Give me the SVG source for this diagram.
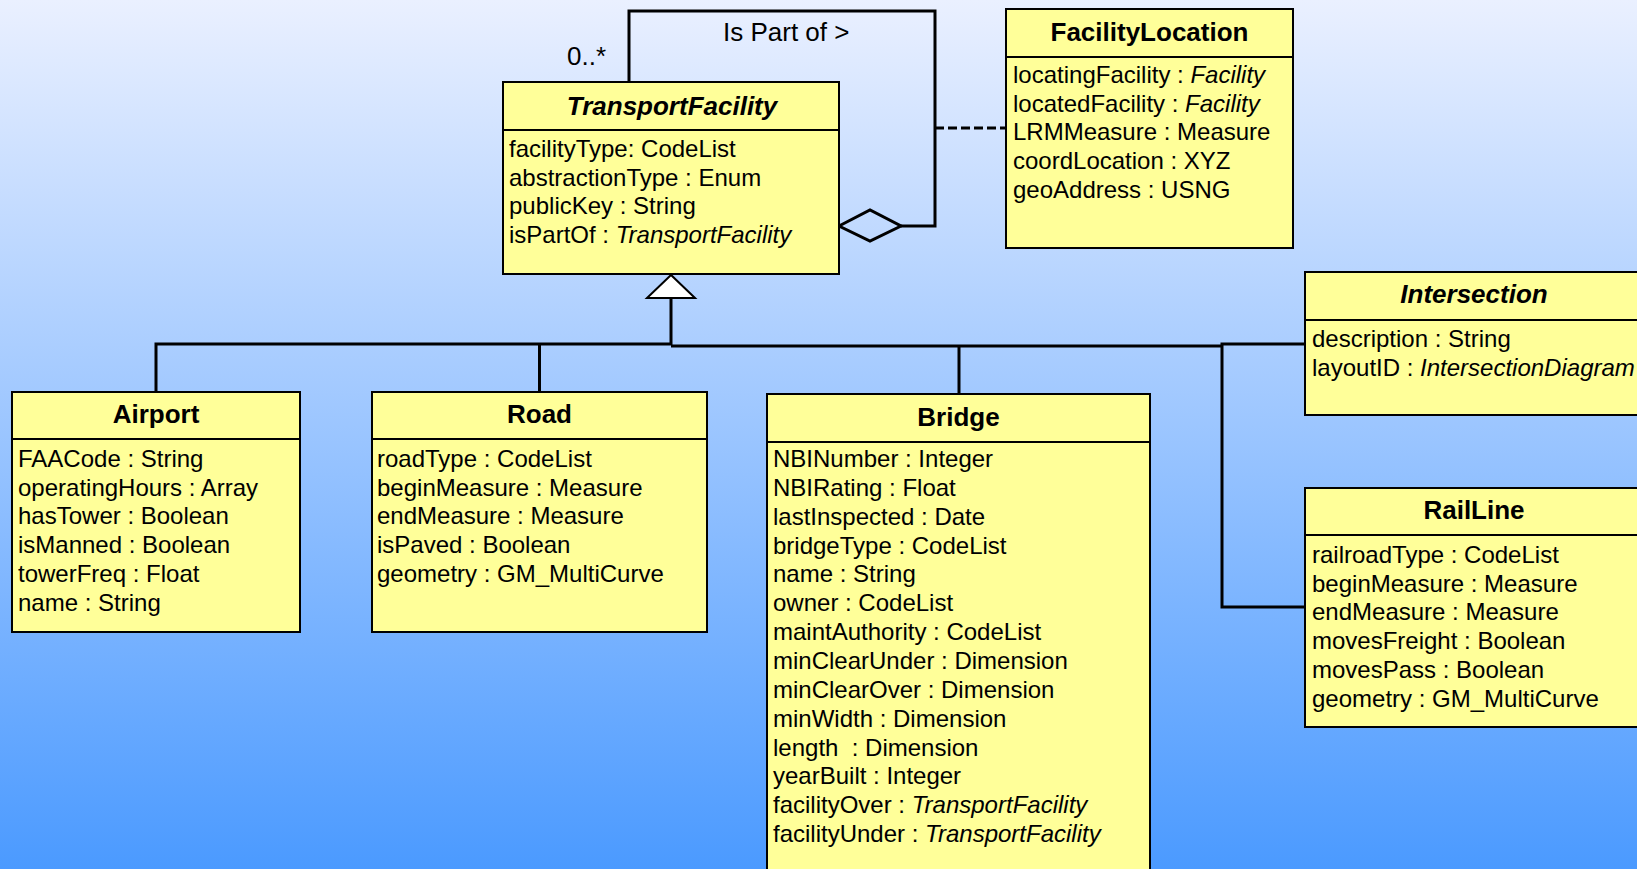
<svg xmlns="http://www.w3.org/2000/svg" width="1637" height="869" viewBox="0 0 1637 869">
<defs>
<linearGradient id="bg" x1="0" y1="0" x2="0" y2="1">
<stop offset="0" stop-color="#eaf0ff"/>
<stop offset="1" stop-color="#4b9aff"/>
</linearGradient>
<style>
.box{fill:#ffff99;stroke:#000;stroke-width:2}
.div{stroke:#000;stroke-width:2}
.t{font-family:"Liberation Sans",Arial,sans-serif;font-size:26px;font-weight:bold;text-anchor:middle;fill:#000}
.ti{font-style:italic}
.a{font-family:"Liberation Sans",Arial,sans-serif;font-size:24px;fill:#000}
.it{font-style:italic}
.c{fill:none;stroke:#000;stroke-width:3}
.lbl{font-family:"Liberation Sans",Arial,sans-serif;font-size:26px;fill:#000}
</style>
</defs>
<rect x="0" y="0" width="1637" height="869" fill="url(#bg)"/>

<g id="connectors">
<polyline class="c" points="629,82 629,11 935,11 935,226 901,226"/>
<polygon points="839,226 870,210 901,226 870,241" fill="none" stroke="#000" stroke-width="3"/>
<line x1="935" y1="128" x2="1006" y2="128" stroke="#000" stroke-width="3" stroke-dasharray="9,4"/>
<line class="c" x1="671" y1="298" x2="671" y2="345"/>
<polyline class="c" points="156,392 156,344 671,344"/>
<line class="c" x1="671" y1="346" x2="1222" y2="346"/>
<line class="c" x1="539.5" y1="344" x2="539.5" y2="392"/>
<line class="c" x1="959" y1="346" x2="959" y2="394"/>
<polyline class="c" points="1305,344 1222,344 1222,607 1305,607"/>
<polygon points="671,275 647,298 695,298" fill="#fff" stroke="#000" stroke-width="2"/>
<text class="lbl" x="567" y="65">0..*</text>
<text class="lbl" x="723" y="41">Is Part of &gt;</text>
</g>

<g id="TransportFacility">
<rect class="box" x="503" y="82" width="336" height="192"/>
<line class="div" x1="503" y1="130" x2="839" y2="130"/>
<text class="t ti" x="672" y="115">TransportFacility</text>
<text class="a" x="509" y="157">facilityType: CodeList</text>
<text class="a" x="509" y="185.7">abstractionType : Enum</text>
<text class="a" x="509" y="214.4">publicKey : String</text>
<text class="a" x="509" y="243">isPartOf : <tspan class="it">TransportFacility</tspan></text>
</g>

<g id="FacilityLocation">
<rect class="box" x="1006" y="9" width="287" height="239"/>
<line class="div" x1="1006" y1="57" x2="1293" y2="57"/>
<text class="t" x="1149.5" y="41">FacilityLocation</text>
<text class="a" x="1013" y="83">locatingFacility : <tspan class="it">Facility</tspan></text>
<text class="a" x="1013" y="111.7">locatedFacility : <tspan class="it">Facility</tspan></text>
<text class="a" x="1013" y="140.4">LRMMeasure : Measure</text>
<text class="a" x="1013" y="169.1">coordLocation : XYZ</text>
<text class="a" x="1013" y="197.8">geoAddress : USNG</text>
</g>

<g id="Intersection">
<rect class="box" x="1305" y="272" width="340" height="143"/>
<line class="div" x1="1305" y1="320" x2="1645" y2="320"/>
<text class="t ti" x="1474" y="303">Intersection</text>
<text class="a" x="1312" y="347">description : String</text>
<text class="a" x="1312" y="376">layoutID : <tspan class="it">IntersectionDiagram</tspan></text>
</g>

<g id="RailLine">
<rect class="box" x="1305" y="488" width="340" height="239"/>
<line class="div" x1="1305" y1="535" x2="1645" y2="535"/>
<text class="t" x="1474" y="519">RailLine</text>
<text class="a" x="1312" y="563">railroadType : CodeList</text>
<text class="a" x="1312" y="591.7">beginMeasure : Measure</text>
<text class="a" x="1312" y="620.4">endMeasure : Measure</text>
<text class="a" x="1312" y="649.1">movesFreight : Boolean</text>
<text class="a" x="1312" y="677.8">movesPass : Boolean</text>
<text class="a" x="1312" y="706.5">geometry : GM_MultiCurve</text>
</g>

<g id="Airport">
<rect class="box" x="12" y="392" width="288" height="240"/>
<line class="div" x1="12" y1="439" x2="300" y2="439"/>
<text class="t" x="156" y="423">Airport</text>
<text class="a" x="18" y="467">FAACode : String</text>
<text class="a" x="18" y="495.7">operatingHours : Array</text>
<text class="a" x="18" y="524.4">hasTower : Boolean</text>
<text class="a" x="18" y="553.1">isManned : Boolean</text>
<text class="a" x="18" y="581.8">towerFreq : Float</text>
<text class="a" x="18" y="610.5">name : String</text>
</g>

<g id="Road">
<rect class="box" x="372" y="392" width="335" height="240"/>
<line class="div" x1="372" y1="439" x2="707" y2="439"/>
<text class="t" x="539.5" y="423">Road</text>
<text class="a" x="377" y="467">roadType : CodeList</text>
<text class="a" x="377" y="495.7">beginMeasure : Measure</text>
<text class="a" x="377" y="524.4">endMeasure : Measure</text>
<text class="a" x="377" y="553.1">isPaved : Boolean</text>
<text class="a" x="377" y="581.8">geometry : GM_MultiCurve</text>
</g>

<g id="Bridge">
<rect class="box" x="767" y="394" width="383" height="500"/>
<line class="div" x1="767" y1="442" x2="1150" y2="442"/>
<text class="t" x="958.5" y="426">Bridge</text>
<text class="a" x="773" y="467">NBINumber : Integer</text>
<text class="a" x="773" y="495.85">NBIRating : Float</text>
<text class="a" x="773" y="524.7">lastInspected : Date</text>
<text class="a" x="773" y="553.55">bridgeType : CodeList</text>
<text class="a" x="773" y="582.4">name : String</text>
<text class="a" x="773" y="611.25">owner : CodeList</text>
<text class="a" x="773" y="640.1">maintAuthority : CodeList</text>
<text class="a" x="773" y="668.95">minClearUnder : Dimension</text>
<text class="a" x="773" y="697.8">minClearOver : Dimension</text>
<text class="a" x="773" y="726.65">minWidth : Dimension</text>
<text class="a" x="773" y="755.5" xml:space="preserve">length  : Dimension</text>
<text class="a" x="773" y="784.35">yearBuilt : Integer</text>
<text class="a" x="773" y="813.2">facilityOver : <tspan class="it">TransportFacility</tspan></text>
<text class="a" x="773" y="842">facilityUnder : <tspan class="it">TransportFacility</tspan></text>
</g>
</svg>
